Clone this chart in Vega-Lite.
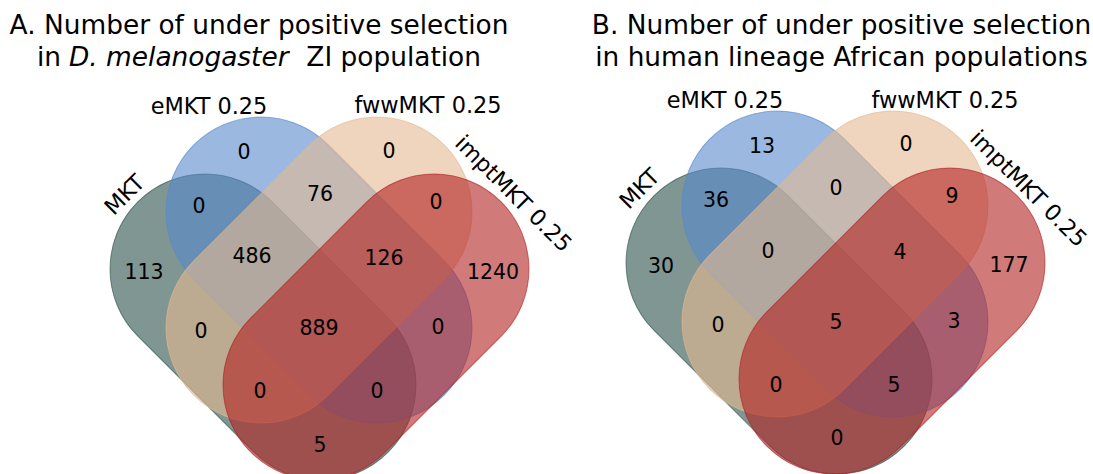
{
  "$schema": "https://vega.github.io/schema/vega-lite/v6.json",
  "width": 1093,
  "height": 474,
  "autosize": {"type": "none"},
  "padding": 0,
  "background": "white",
  "config": {"view": {"stroke": null}, "text": {"font": "DejaVu Sans", "color": "black"}},
  "datasets": {
    "shapes": [
      {"panel": "A", "set": "MKT", "x": 263, "y": 327},
      {"panel": "A", "set": "eMKT 0.25", "x": 319, "y": 270},
      {"panel": "A", "set": "fwwMKT 0.25", "x": 319, "y": 270},
      {"panel": "A", "set": "imptMKT 0.25", "x": 376, "y": 327},
      {"panel": "B", "set": "MKT", "x": 779, "y": 321},
      {"panel": "B", "set": "eMKT 0.25", "x": 835, "y": 264},
      {"panel": "B", "set": "fwwMKT 0.25", "x": 835, "y": 264},
      {"panel": "B", "set": "imptMKT 0.25", "x": 892, "y": 321}
    ],
    "counts": [
      {"panel": "A", "region": "eMKT", "x": 244, "y": 153, "n": "0"},
      {"panel": "A", "region": "fwwMKT", "x": 389, "y": 152, "n": "0"},
      {"panel": "A", "region": "MKT&eMKT", "x": 199, "y": 207, "n": "0"},
      {"panel": "A", "region": "eMKT&fwwMKT", "x": 320, "y": 195, "n": "76"},
      {"panel": "A", "region": "fwwMKT&imptMKT", "x": 436, "y": 203, "n": "0"},
      {"panel": "A", "region": "MKT", "x": 144, "y": 273, "n": "113"},
      {"panel": "A", "region": "MKT&eMKT&fwwMKT", "x": 252, "y": 257, "n": "486"},
      {"panel": "A", "region": "eMKT&fwwMKT&imptMKT", "x": 384, "y": 259, "n": "126"},
      {"panel": "A", "region": "imptMKT", "x": 493, "y": 273, "n": "1240"},
      {"panel": "A", "region": "MKT&fwwMKT", "x": 201, "y": 332, "n": "0"},
      {"panel": "A", "region": "all", "x": 319, "y": 329, "n": "889"},
      {"panel": "A", "region": "eMKT&imptMKT", "x": 438, "y": 328, "n": "0"},
      {"panel": "A", "region": "MKT&fwwMKT&imptMKT", "x": 260, "y": 392, "n": "0"},
      {"panel": "A", "region": "MKT&eMKT&imptMKT", "x": 377, "y": 392, "n": "0"},
      {"panel": "A", "region": "MKT&imptMKT", "x": 320, "y": 446, "n": "5"},
      {"panel": "B", "region": "eMKT", "x": 762, "y": 147, "n": "13"},
      {"panel": "B", "region": "fwwMKT", "x": 906, "y": 145, "n": "0"},
      {"panel": "B", "region": "MKT&eMKT", "x": 716, "y": 201, "n": "36"},
      {"panel": "B", "region": "eMKT&fwwMKT", "x": 836, "y": 189, "n": "0"},
      {"panel": "B", "region": "fwwMKT&imptMKT", "x": 952, "y": 197, "n": "9"},
      {"panel": "B", "region": "MKT", "x": 661, "y": 267, "n": "30"},
      {"panel": "B", "region": "MKT&eMKT&fwwMKT", "x": 768, "y": 252, "n": "0"},
      {"panel": "B", "region": "eMKT&fwwMKT&imptMKT", "x": 900, "y": 253, "n": "4"},
      {"panel": "B", "region": "imptMKT", "x": 1009, "y": 266, "n": "177"},
      {"panel": "B", "region": "MKT&fwwMKT", "x": 718, "y": 326, "n": "0"},
      {"panel": "B", "region": "all", "x": 836, "y": 323, "n": "5"},
      {"panel": "B", "region": "eMKT&imptMKT", "x": 954, "y": 322, "n": "3"},
      {"panel": "B", "region": "MKT&fwwMKT&imptMKT", "x": 776, "y": 386, "n": "0"},
      {"panel": "B", "region": "MKT&eMKT&imptMKT", "x": 894, "y": 386, "n": "5"},
      {"panel": "B", "region": "MKT&imptMKT", "x": 837, "y": 439, "n": "0"}
    ],
    "setLabels": [
      {"panel": "A", "dir": "flat", "x": 209, "y": 107, "name": "eMKT 0.25"},
      {"panel": "A", "dir": "flat", "x": 428, "y": 106, "name": "fwwMKT 0.25"},
      {"panel": "A", "dir": "up", "x": 125, "y": 195, "name": "MKT"},
      {"panel": "A", "dir": "down", "x": 513, "y": 194, "name": "imptMKT 0.25"},
      {"panel": "B", "dir": "flat", "x": 725, "y": 101, "name": "eMKT 0.25"},
      {"panel": "B", "dir": "flat", "x": 945, "y": 101, "name": "fwwMKT 0.25"},
      {"panel": "B", "dir": "up", "x": 640, "y": 189, "name": "MKT"},
      {"panel": "B", "dir": "down", "x": 1028, "y": 189, "name": "imptMKT 0.25"}
    ],
    "titles": [
      {"part": "center", "x": 259, "y": 34, "t": "A. Number of under positive selection"},
      {"part": "center", "x": 841.5, "y": 34, "t": "B. Number of under positive selection"},
      {"part": "center", "x": 841.5, "y": 66, "t": "in human lineage African populations"},
      {"part": "left", "x": 37, "y": 66, "t": "in"},
      {"part": "italic", "x": 69, "y": 66, "t": "D. melanogaster"},
      {"part": "right", "x": 481, "y": 66, "t": "ZI population"}
    ]
  },
  "encoding": {
    "x": {"field": "x", "type": "quantitative", "scale": {"domain": [0, 1093], "nice": false, "zero": false}, "axis": null},
    "y": {"field": "y", "type": "quantitative", "scale": {"domain": [0, 474], "nice": false, "zero": false, "reverse": true}, "axis": null}
  },
  "layer": [
    {
      "data": {"name": "shapes"},
      "transform": [{"filter": "datum.set === 'MKT'"}],
      "mark": {"type": "point", "shape": "M -82 -95 L 82 -95 A 95 95 0 0 1 82 95 L -82 95 A 95 95 0 0 1 -82 -95 Z", "size": 4, "angle": 45, "filled": true, "opacity": 1, "fill": "#2c5049", "fillOpacity": 0.6, "stroke": "#2c5049", "strokeOpacity": 0.6, "strokeWidth": 1}
    },
    {
      "data": {"name": "shapes"},
      "transform": [{"filter": "datum.set === 'eMKT 0.25'"}],
      "mark": {"type": "point", "shape": "M -82 -95 L 82 -95 A 95 95 0 0 1 82 95 L -82 95 A 95 95 0 0 1 -82 -95 Z", "size": 4, "angle": 45, "filled": true, "opacity": 1, "fill": "#5789cb", "fillOpacity": 0.6, "stroke": "#5789cb", "strokeOpacity": 0.6, "strokeWidth": 1}
    },
    {
      "data": {"name": "shapes"},
      "transform": [{"filter": "datum.set === 'fwwMKT 0.25'"}],
      "mark": {"type": "point", "shape": "M -82 -95 L 82 -95 A 95 95 0 0 1 82 95 L -82 95 A 95 95 0 0 1 -82 -95 Z", "size": 4, "angle": -45, "filled": true, "opacity": 1, "fill": "#e4b991", "fillOpacity": 0.6, "stroke": "#e4b991", "strokeOpacity": 0.6, "strokeWidth": 1}
    },
    {
      "data": {"name": "shapes"},
      "transform": [{"filter": "datum.set === 'imptMKT 0.25'"}],
      "mark": {"type": "point", "shape": "M -82 -95 L 82 -95 A 95 95 0 0 1 82 95 L -82 95 A 95 95 0 0 1 -82 -95 Z", "size": 4, "angle": -45, "filled": true, "opacity": 1, "fill": "#b22222", "fillOpacity": 0.6, "stroke": "#b22222", "strokeOpacity": 0.6, "strokeWidth": 1}
    },
    {
      "data": {"name": "counts"},
      "mark": {"type": "text", "fontSize": 20.5, "align": "center", "baseline": "middle"},
      "encoding": {"text": {"field": "n", "type": "nominal"}}
    },
    {
      "data": {"name": "setLabels"},
      "transform": [{"filter": "datum.dir === 'flat'"}],
      "mark": {"type": "text", "fontSize": 22.4, "align": "center", "baseline": "middle"},
      "encoding": {"text": {"field": "name", "type": "nominal"}}
    },
    {
      "data": {"name": "setLabels"},
      "transform": [{"filter": "datum.dir === 'up'"}],
      "mark": {"type": "text", "fontSize": 22.4, "align": "center", "baseline": "middle", "angle": -45},
      "encoding": {"text": {"field": "name", "type": "nominal"}}
    },
    {
      "data": {"name": "setLabels"},
      "transform": [{"filter": "datum.dir === 'down'"}],
      "mark": {"type": "text", "fontSize": 22.4, "align": "center", "baseline": "middle", "angle": 45},
      "encoding": {"text": {"field": "name", "type": "nominal"}}
    },
    {
      "data": {"name": "titles"},
      "transform": [{"filter": "datum.part === 'center'"}],
      "mark": {"type": "text", "fontSize": 26.4, "align": "center", "baseline": "alphabetic"},
      "encoding": {"text": {"field": "t", "type": "nominal"}}
    },
    {
      "data": {"name": "titles"},
      "transform": [{"filter": "datum.part === 'left'"}],
      "mark": {"type": "text", "fontSize": 26.4, "align": "left", "baseline": "alphabetic"},
      "encoding": {"text": {"field": "t", "type": "nominal"}}
    },
    {
      "data": {"name": "titles"},
      "transform": [{"filter": "datum.part === 'italic'"}],
      "mark": {"type": "text", "fontSize": 26.4, "align": "left", "baseline": "alphabetic", "fontStyle": "italic"},
      "encoding": {"text": {"field": "t", "type": "nominal"}}
    },
    {
      "data": {"name": "titles"},
      "transform": [{"filter": "datum.part === 'right'"}],
      "mark": {"type": "text", "fontSize": 26.4, "align": "right", "baseline": "alphabetic"},
      "encoding": {"text": {"field": "t", "type": "nominal"}}
    }
  ]
}
